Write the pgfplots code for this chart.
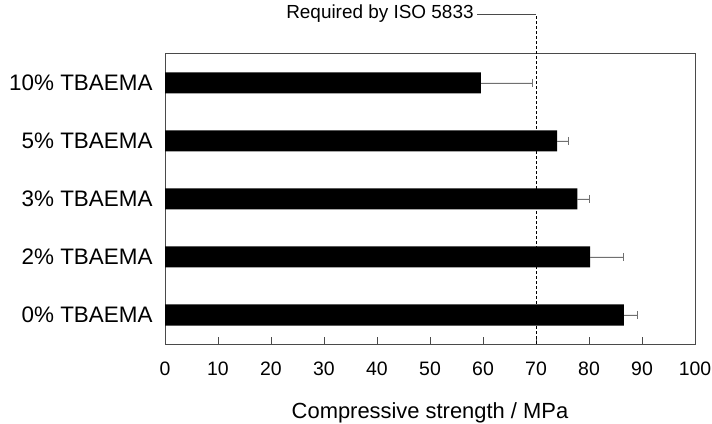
\documentclass[border=0pt]{standalone}
\usepackage{pgfplots}
\pgfplotsset{compat=1.18}
\usepackage{fontspec}
\setmainfont{Liberation Sans}
\definecolor{axgray}{HTML}{4A4A4A}
\definecolor{errgray}{HTML}{707070}
\begin{document}
\begin{tikzpicture}
\useasboundingbox (0,0) rectangle (712bp,424bp);
\begin{axis}[
 at={(165bp,80bp)}, anchor=south west,
 scale only axis, width=530bp, height=290bp,
 xbar, bar width=21bp,
 xmin=0, xmax=100, ymin=-0.5, ymax=4.5,
 xtick={0,10,...,100},
 ytick={0,1,2,3,4},
 yticklabels={0\% TBAEMA,2\% TBAEMA,3\% TBAEMA,5\% TBAEMA,10\% TBAEMA},
 tick align=inside,
 xtick pos=lower, ytick pos=left,
 major tick length=7bp,
 y tick style={draw=none},
 x tick style={axgray, line width=0.8bp},
 axis line style={axgray, line width=1bp},
 /pgf/number format/assume math mode=true,
 xticklabel style={font=\fontsize{19.5}{22}\selectfont, yshift=-14bp},
 yticklabel style={font=\fontsize{22.5}{25}\selectfont, xshift=-9bp},
 xlabel={Compressive strength / MPa},
 xlabel style={font=\fontsize{22}{25}\selectfont, yshift=-21bp},
 clip=false,
]
\addplot[fill=black, draw=none,
  error bars/.cd, x dir=plus, x explicit,
  error bar style={errgray, line width=0.8bp},
  error mark options={errgray, line width=0.8bp, mark size=4bp, rotate=90}]
  table[x=v, y=p, x error=e] {
p v e
0 86.6 2.5
1 80.2 6.2
2 77.8 2.2
3 74.0 2.2
4 59.6 9.8
};
\coordinate (base) at (axis cs:70,-0.5);
\coordinate (atop) at (axis cs:70,4.5);
\end{axis}
\draw[dash pattern=on 3bp off 2bp, line width=0.8bp] (base) -- ([yshift=40bp]atop) coordinate (top);
\draw[axgray, line width=0.8bp] (top) -- ([xshift=-59bp]top) node[anchor=east, text=black, font=\fontsize{19}{22}\selectfont, inner sep=3bp] {Required by ISO 5833};
\end{tikzpicture}
\end{document}
